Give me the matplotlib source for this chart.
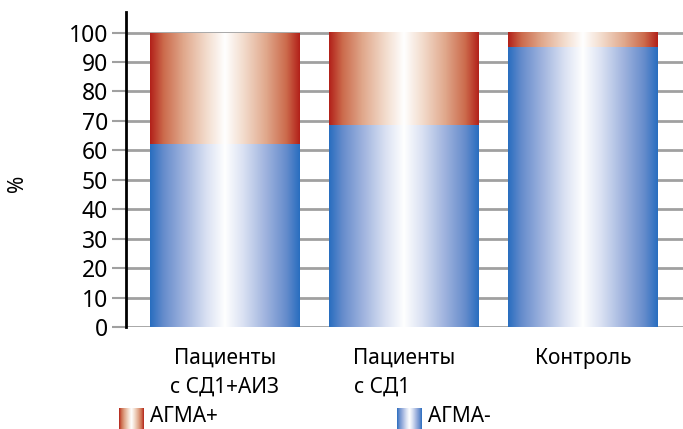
import numpy as np
import matplotlib
matplotlib.use("Agg")
import matplotlib.pyplot as plt
from matplotlib.colors import LinearSegmentedColormap

plt.rcParams['font.family'] = ['Noto Sans', 'DejaVu Sans']

categories_line1 = ["Пациенты", "Пациенты", "Контроль"]
categories_line2 = ["с СД1+АИЗ", "с СД1", ""]
agma_minus = [62.3, 68.5, 95.0]
agma_plus = [37.7, 31.5, 5.0]
series_names = ["АГМА+", "АГМА-"]
yticks = list(range(0, 101, 10))

red_cmap = LinearSegmentedColormap.from_list(
    "red", [(0.0, (0.70, 0.13, 0.10)), (0.18, (0.80, 0.42, 0.30)),
            (0.45, (0.88, 0.66, 0.55)), (0.75, (0.95, 0.86, 0.80)), (1.0, (1, 1, 1))])
blue_cmap = LinearSegmentedColormap.from_list(
    "blue", [(0.0, (0.16, 0.43, 0.75)), (0.18, (0.40, 0.55, 0.80)),
             (0.45, (0.62, 0.70, 0.87)), (0.75, (0.85, 0.88, 0.95)), (1.0, (1, 1, 1))])

grad = 1 - np.abs(np.linspace(-1, 1, 256))
grad = grad.reshape(1, -1)

fig = plt.figure(figsize=(6.83, 4.29), dpi=100)
ax = fig.add_axes([126/683, 1 - 327/429, 1 - 126/683, (327 - 12)/429])

x = np.arange(len(agma_minus))
w = 0.838
bars_b = ax.bar(x, agma_minus, w, color='none', zorder=3)
bars_r = ax.bar(x, agma_plus, w, bottom=agma_minus, color='none', zorder=3)

for bars, cmap in ((bars_b, blue_cmap), (bars_r, red_cmap)):
    for p in bars:
        x0, y0, ww, hh = p.get_x(), p.get_y(), p.get_width(), p.get_height()
        ax.imshow(grad, cmap=cmap, vmin=0, vmax=1, aspect='auto',
                  extent=(x0, x0 + ww, y0, y0 + hh), zorder=3, interpolation='bilinear')

ax.set_xlim(-0.553, 2.559)
ax.set_ylim(0, 107)
ax.set_yticks(yticks)
ax.set_yticklabels([str(t) for t in yticks], fontsize=16.5)
for t in yticks:
    ax.axhline(t, color='#a0a0a0', lw=2, zorder=1)
ax.tick_params(axis='y', length=10, width=1.5, color='#a0a0a0', pad=3, labelcolor='black')
ax.tick_params(axis='x', length=0, labelbottom=False)
for s in ['top', 'right', 'bottom']:
    ax.spines[s].set_visible(False)
ax.spines['left'].set_linewidth(2)
ax.spines['left'].set_color('black')
ax.spines['left'].set_zorder(4)

fig.text(18/683, 1 - 183/429, '%', fontsize=15, rotation=90, ha='center', va='center')

trans = ax.get_xaxis_transform()
for i in range(len(x)):
    ax.text(x[i], -0.10, categories_line1[i], transform=trans, ha='center', va='center', fontsize=15)
    if categories_line2[i]:
        ha = 'center' if i == 0 else 'left'
        xx = x[i] if i == 0 else x[i] - 0.28
        ax.text(xx, -0.19, categories_line2[i], transform=trans, ha=ha, va='center', fontsize=15)

# legend
leg_items = [(119, series_names[0], red_cmap), (397, series_names[1], blue_cmap)]
for px, name, cmap in leg_items:
    lax = fig.add_axes([px/683, 1 - 429/429, 25/683, 21/429])
    lax.imshow(grad, cmap=cmap, vmin=0, vmax=1, aspect='auto', interpolation='bilinear')
    lax.axis('off')
    fig.text((px + 31)/683, 1 - 417/429, name, ha='left', va='center', fontsize=15)

fig.savefig('out.png', dpi=100)
